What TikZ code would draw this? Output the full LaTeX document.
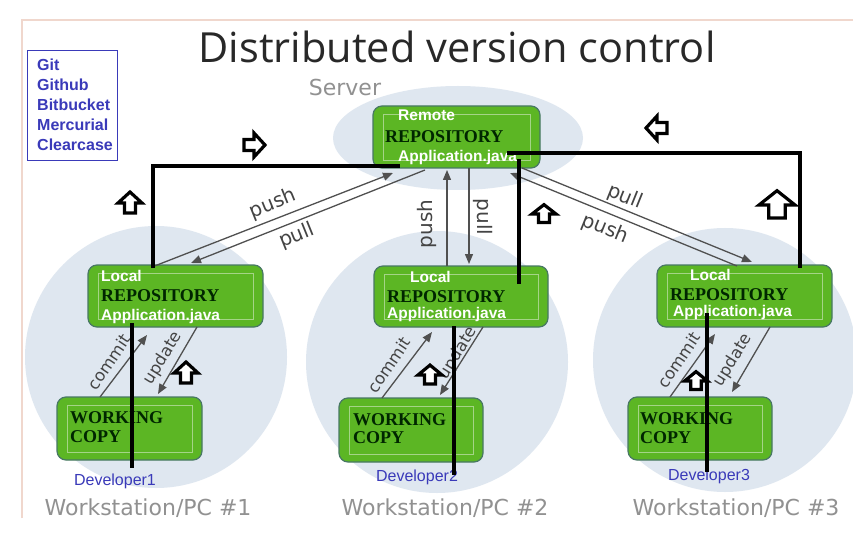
\documentclass[tikz,border=0pt]{standalone}
\usepackage{fontspec}
\setmainfont{Liberation Serif}
\newfontfamily\arialf{Liberation Sans}
\newfontfamily\dejaf{DejaVu Sans}
\newfontfamily\titlef{Open Sans}
\usetikzlibrary{calc,arrows.meta}
\definecolor{boxgreen}{RGB}{92,182,36}
\definecolor{boxedge}{RGB}{72,120,100}
\definecolor{innerline}{RGB}{165,212,135}
\definecolor{bubble}{RGB}{223,231,240}
\definecolor{legblue}{RGB}{58,58,185}
\definecolor{labgray}{RGB}{145,145,145}
\definecolor{arrgray}{RGB}{80,80,80}
\definecolor{labdark}{RGB}{68,68,68}
\definecolor{framepink}{RGB}{240,215,205}
\definecolor{titlegray}{RGB}{40,40,40}
\tikzset{
  repobox/.style={draw=boxedge, line width=1.2pt, fill=boxgreen, rounded corners=9pt,
    inner sep=0pt, outer sep=0pt},
  innerframe/.style={draw=innerline, line width=0.8pt},
  whitetxt/.style={anchor=west, inner sep=0pt, text=white, font=\arialf\bfseries\fontsize{15.5}{17}\selectfont},
  blacktxt/.style={anchor=west, inner sep=0pt, text=black!85!green, font=\bfseries\fontsize{18}{20}\selectfont},
  devtxt/.style={inner sep=0pt, text=legblue, font=\arialf\fontsize{16}{18}\selectfont},
  wstxt/.style={inner sep=0pt, text=labgray, font=\dejaf\fontsize{22}{24}\selectfont},
  flowlabel/.style={inner sep=0pt, text=labdark, font=\dejaf\fontsize{20}{22}\selectfont},
  smalllabel/.style={inner sep=0pt, text=labdark, font=\dejaf\fontsize{16.5}{18}\selectfont},
  graylink/.style={draw=arrgray, line width=1.3pt, -{Triangle[length=10pt,width=8pt]}},
  blackline/.style={draw=black, line width=4pt},
  blockarrow/.pic={\draw[line width=3.2pt, fill=white, line join=miter]
     (0,-11) -- (12,0) -- (5.5,0) -- (5.5,10) -- (-5.5,10) -- (-5.5,0) -- (-12,0) -- cycle;}
}
\begin{document}
\begin{tikzpicture}[x=1pt,y=-1pt]
\useasboundingbox (0,0) rectangle (853,545);
\fill[white] (0,0) rectangle (853,545);
% slide frame
\draw[framepink, line width=1.5pt] (22,518) -- (22,20) -- (853,20);
% title
\node[inner sep=0pt, text=titlegray, font=\titlef\fontsize{41.5}{44}\selectfont] (title) at (457,47) {Distributed version control};
% legend
\node[draw=legblue, line width=1pt, minimum width=90pt, minimum height=110pt, inner sep=0pt] (legend) at (72,106) {};
\node[anchor=north west, inner sep=0pt, align=left, text=legblue, font=\arialf\bfseries\fontsize{16}{20}\selectfont] (legendtext) at (37,59) {Git\\Github\\Bitbucket\\Mercurial\\Clearcase};
% server label
\node[wstxt] (server) at (345,87) {Server};
% bubbles
\fill[bubble] (458,138) ellipse [x radius=125pt, y radius=52pt];
\fill[bubble] (156,357) circle [radius=131pt];
\fill[bubble] (437,362) circle [radius=131pt];
\fill[bubble] (725,360) circle [radius=132pt];
% workstation labels
\node[wstxt] (ws1) at (148,508) {Workstation/PC \#1};
\node[wstxt] (ws2) at (445,508) {Workstation/PC \#2};
\node[wstxt] (ws3) at (736,508) {Workstation/PC \#3};
% boxes
\node[repobox, minimum width=167pt, minimum height=62pt] (remote) at (456.5,137) {};
\node[repobox, minimum width=175pt, minimum height=62pt] (local1) at (175.5,296) {};
\node[repobox, minimum width=174pt, minimum height=61pt] (local2) at (461,296.5) {};
\node[repobox, minimum width=175pt, minimum height=62pt] (local3) at (744.5,296) {};
\node[repobox, minimum width=145pt, minimum height=63pt] (wc1) at (129.5,428.5) {};
\node[repobox, minimum width=144pt, minimum height=64pt] (wc2) at (411,430) {};
\node[repobox, minimum width=144pt, minimum height=63pt] (wc3) at (700,428.5) {};
\foreach \b in {remote,local1,local2,local3,wc1,wc2,wc3}{
  \draw[innerframe] ($(\b.north west)+(10,8)$) rectangle ($(\b.south east)+(-10,-8)$);
}
% box texts
\node[whitetxt] (rt1) at (398,115) {Remote};
\node[blacktxt] (rt2) at (385,137) {REPOSITORY};
\node[whitetxt] (rt3) at (398,157) {Application.java};
\node[whitetxt] (l1t1) at (101,276) {Local};
\node[blacktxt] (l1t2) at (101,296) {REPOSITORY};
\node[whitetxt] (l1t3) at (101,316) {Application.java};
\node[whitetxt] (l2t1) at (410,277) {Local};
\node[blacktxt] (l2t2) at (387,297) {REPOSITORY};
\node[whitetxt] (l2t3) at (387,314) {Application.java};
\node[whitetxt] (l3t1) at (690,275) {Local};
\node[blacktxt] (l3t2) at (670,295) {REPOSITORY};
\node[whitetxt] (l3t3) at (673,312) {Application.java};
\node[blacktxt] (w1a) at (70,418) {WORKING};
\node[blacktxt] (w1b) at (70,437) {COPY};
\node[blacktxt] (w2a) at (353,420) {WORKING};
\node[blacktxt] (w2b) at (353,438) {COPY};
\node[blacktxt] (w3a) at (640,419) {WORKING};
\node[blacktxt] (w3b) at (640,438) {COPY};
% developers
\node[devtxt] (dev1) at (115,481) {Developer1};
\node[devtxt] (dev2) at (417,477) {Developer2};
\node[devtxt] (dev3) at (709,476) {Developer3};
% push / pull connectors
\coordinate (p1s) at (152,267); \coordinate (p1e) at (393,173);
\coordinate (q1s) at (425,170); \coordinate (q1e) at (191,263);
\coordinate (p2s) at (447,266); \coordinate (p2e) at (447,170);
\coordinate (q2s) at (469,168); \coordinate (q2e) at (469,264);
\coordinate (p3s) at (737,266); \coordinate (p3e) at (510,173);
\coordinate (q3s) at (522,168); \coordinate (q3e) at (752,262);
\draw[graylink] (p1s) -- (p1e);
\draw[graylink] (q1s) -- (q1e);
\draw[graylink] (p2s) -- (p2e);
\draw[graylink] (q2s) -- (q2e);
\draw[graylink] (p3s) -- (p3e);
\draw[graylink] (q3s) -- (q3e);
\node[flowlabel, rotate=22] (push1) at (273,204) {push};
\node[flowlabel, rotate=22] (pull1) at (297,236) {pull};
\node[flowlabel, rotate=90] (push2) at (427,224) {push};
\node[flowlabel, rotate=-90] (pull2) at (483,217) {pull};
\node[flowlabel, rotate=-22] (pull3) at (625,197) {pull};
\node[flowlabel, rotate=-22] (push3) at (605,229) {push};
% commit / update connectors
\coordinate (c1s) at (100,397); \coordinate (c1e) at (147,335);
\coordinate (u1s) at (197,327); \coordinate (u1e) at (158,394);
\coordinate (c2s) at (382,398); \coordinate (c2e) at (432,332);
\coordinate (u2s) at (483,327); \coordinate (u2e) at (440,395);
\coordinate (c3s) at (670,397); \coordinate (c3e) at (715,334);
\coordinate (u3s) at (770,327); \coordinate (u3e) at (732,392);
\draw[graylink] (c1s) -- (c1e);
\draw[graylink] (u1s) -- (u1e);
\draw[graylink] (c2s) -- (c2e);
\draw[graylink] (u2s) -- (u2e);
\draw[graylink] (c3s) -- (c3e);
\draw[graylink] (u3s) -- (u3e);
\node[smalllabel, rotate=56] (com1) at (109,362) {commit};
\node[smalllabel, rotate=58] (upd1) at (163,358) {update};
\node[smalllabel, rotate=56] (com2) at (389,365) {commit};
\node[smalllabel, rotate=58] (upd2) at (458,353) {update};
\node[smalllabel, rotate=56] (com3) at (679,360) {commit};
\node[smalllabel, rotate=58] (upd3) at (733,360) {update};
% black lines
\coordinate (b1a) at (153,268); \coordinate (b1b) at (400,166);
\coordinate (b2a) at (507,153); \coordinate (b2b) at (800,268);
\coordinate (b3a) at (519,159); \coordinate (b3b) at (519,284);
\coordinate (b4a) at (132,323); \coordinate (b4b) at (132,468);
\coordinate (b5a) at (454,326); \coordinate (b5b) at (454,475);
\coordinate (b6a) at (707,313); \coordinate (b6b) at (707,472);
\draw[blackline] (b1a) |- (b1b);
\draw[blackline] (b2a) -| (b2b);
\draw[blackline] (b3a) -- (b3b);
\draw[blackline] (b4a) -- (b4b);
\draw[blackline] (b5a) -- (b5b);
\draw[blackline] (b6a) -- (b6b);
% block arrows
\pic[rotate=-90] at (254,145) {blockarrow};
\pic[rotate=90] at (657,128) {blockarrow};
\pic at (130,203) {blockarrow};
\pic[yscale=0.85] at (544,214) {blockarrow};
\pic[xscale=1.5, yscale=1.3] at (777,205) {blockarrow};
\pic at (186,373) {blockarrow};
\pic[yscale=0.9] at (430,375) {blockarrow};
\pic[yscale=0.85, xscale=0.95] at (696,381) {blockarrow};
\end{tikzpicture}
\end{document}
